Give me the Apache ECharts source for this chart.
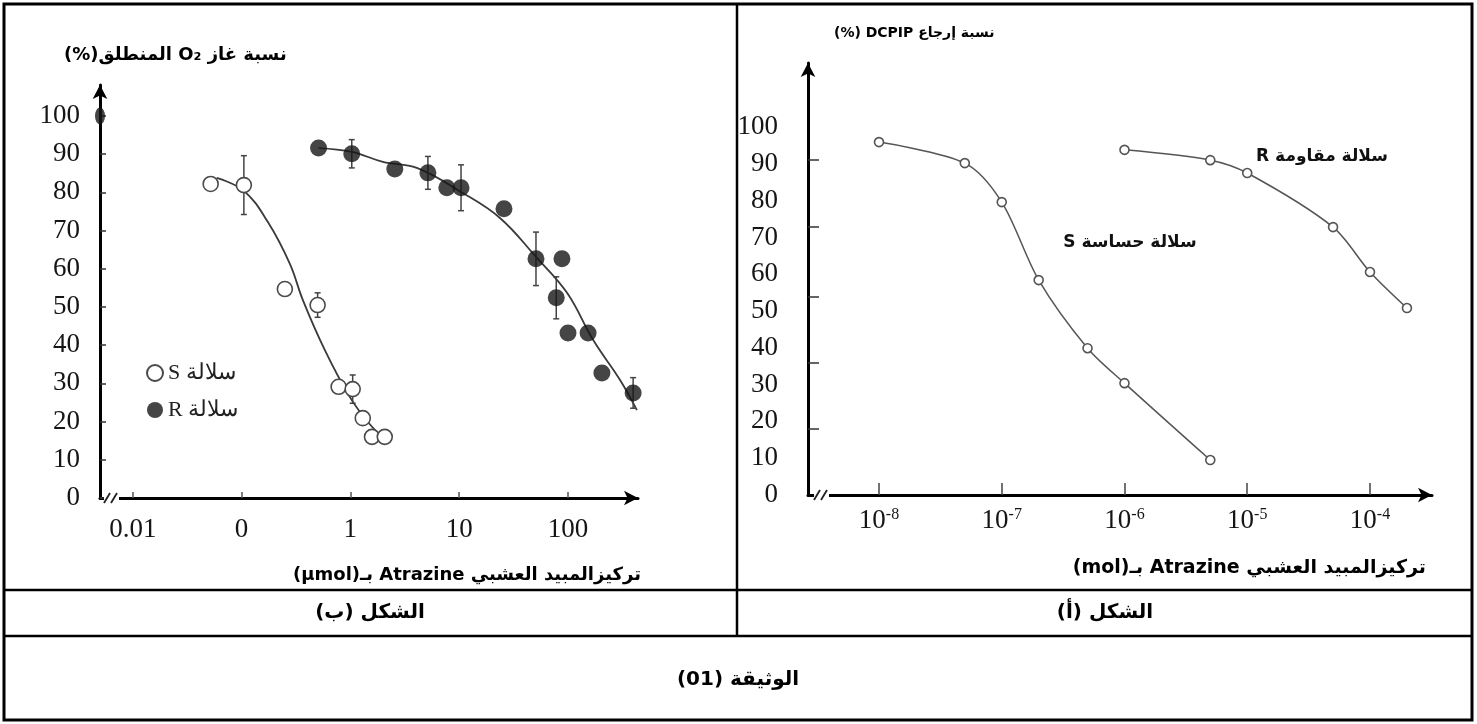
<!DOCTYPE html>
<html><head><meta charset="utf-8">
<script src="https://cdn.jsdelivr.net/npm/echarts@6/dist/echarts.min.js"></script>
<style>html,body{margin:0;padding:0;background:#fff}#c{width:1477px;height:724px}</style>
</head><body><div id="c"></div><script>
// ===== Figure (ب): released O2 (%) vs Atrazine (µmol), log scale =====
const bXTickValues = [0.01, 0.1, 1, 10, 100];
const bXTickLabels = ['0.01', '0', '1', '10', '100'];
const bYTicks = [0, 10, 20, 30, 40, 50, 60, 70, 80, 90, 100];
// strain S (open circles)
const bSX = [0.052, 0.105, 0.25, 0.50, 0.78, 1.05, 1.30, 1.58, 2.07];
const bSY = [82.2, 81.9, 54.7, 50.5, 29.1, 28.5, 20.9, 16.0, 16.0];
// strain R (filled circles)
const bRX = [0.51, 1.03, 2.56, 5.16, 7.7, 10.4, 25.8, 50.8, 88, 78, 100, 153, 205, 397];
const bRY = [91.6, 90.1, 86.1, 85.1, 81.2, 81.2, 75.7, 62.6, 62.6, 52.4, 43.2, 43.2, 32.7, 27.5];
// control point drawn on the y axis
const bCtrlX = [0.005];
const bCtrlY = [100];
// fitted curves
const bSFitX = [0.059, 0.105, 0.174, 0.278, 0.366, 0.583, 0.99, 1.45, 2.21];
const bSFitY = [83.8, 80.4, 72.3, 61.3, 51.8, 38.7, 26.4, 19.9, 14.4];
const bRFitX = [0.51, 1.03, 1.99, 4.08, 10.4, 23.7, 50.8, 98, 170, 301, 430];
const bRFitY = [91.6, 90.6, 88.0, 86.4, 80.1, 73.3, 63.1, 53.7, 41.4, 30.9, 23.0];
// error bars: x, low, high
const bErrX = [0.105, 0.50, 1.05, 1.03, 5.16, 10.4, 50.8, 78, 397];
const bErrLo = [74.2, 47.3, 24.8, 86.4, 80.8, 75.2, 55.6, 46.9, 23.5];
const bErrHi = [89.6, 53.7, 32.2, 93.8, 89.4, 87.2, 69.6, 57.9, 31.5];

// ===== Figure (أ): DCPIP reduction (%) vs Atrazine (mol), log scale =====
const aXTickValues = [1e-8, 1e-7, 1e-6, 1e-5, 1e-4];
const aXTickExp = ['-8', '-7', '-6', '-5', '-4'];
const aYLabels = [0, 10, 20, 30, 40, 50, 60, 70, 80, 90, 100];
const aYTicks = [18, 36, 54, 73, 91];
const aSX = [1e-8, 5e-8, 1e-7, 2e-7, 5e-7, 1e-6, 5e-6];
const aSY = [95.9, 90.2, 79.6, 58.4, 39.9, 30.4, 9.5];
const aRX = [1e-6, 5e-6, 1e-5, 5e-5, 1e-4, 2e-4];
const aRY = [93.8, 91.0, 87.5, 72.8, 60.6, 50.8];

const rtl = s => '\u202B' + s + '\u202C';
const zip = (a, b) => a.map((v, i) => [v, b[i]]);
const idxOf = (arr, v) => arr.findIndex(t => Math.abs(Math.log10(t) - Math.log10(v)) < 1e-6);

const SERIF = 'Liberation Serif';
const nameS = rtl('سلالة S');
const nameR = rtl('سلالة R');

function yAxisCfg(grid, max, ticks, labels, tickLen, margin) {
  return {
    type: 'value', gridIndex: grid, min: 0, max: max,
    axisLine: { show: true, onZero: false, lineStyle: { color: '#000', width: 3 },
      symbol: ['none', 'arrow'], symbolSize: [11, 14] },
    axisTick: { show: true, inside: true, length: tickLen, customValues: ticks,
      lineStyle: { color: '#333', width: 1.5 } },
    axisLabel: { customValues: labels, fontFamily: SERIF, fontSize: 27, color: '#151515', margin: margin },
    splitLine: { show: false }
  };
}

const chart = echarts.init(document.getElementById('c'));
chart.setOption({
  animation: false,
  backgroundColor: '#fff',
  grid: [
    { left: 100, top: 85, width: 538, height: 413 },
    { left: 808, top: 63, width: 624, height: 432 }
  ],
  xAxis: [
    {
      type: 'log', logBase: 10, gridIndex: 0, min: 0.005, max: 440,
      axisLine: { show: true, onZero: false, lineStyle: { color: '#000', width: 3 },
        symbol: ['none', 'arrow'], symbolSize: [11, 14] },
      axisTick: { show: true, inside: true, length: 6, customValues: bXTickValues,
        lineStyle: { color: '#555', width: 1.5 } },
      axisLabel: { customValues: bXTickValues, fontFamily: SERIF, fontSize: 27, color: '#151515', margin: 18,
        formatter: v => bXTickLabels[idxOf(bXTickValues, v)] },
      splitLine: { show: false }, minorTick: { show: false }
    },
    {
      type: 'log', logBase: 10, gridIndex: 1, min: 2.64e-9, max: 3.2e-4,
      axisLine: { show: true, onZero: false, lineStyle: { color: '#000', width: 3 },
        symbol: ['none', 'arrow'], symbolSize: [11, 14] },
      axisTick: { show: true, inside: true, length: 12, customValues: aXTickValues,
        lineStyle: { color: '#444', width: 1.5 } },
      axisLabel: { customValues: aXTickValues, margin: 12,
        formatter: v => '{b|10}{s|' + aXTickExp[idxOf(aXTickValues, v)] + '}',
        rich: {
          b: { fontFamily: SERIF, fontSize: 27, color: '#151515', verticalAlign: 'bottom' },
          s: { fontFamily: SERIF, fontSize: 16, color: '#151515', verticalAlign: 'top' }
        } },
      splitLine: { show: false }, minorTick: { show: false }
    }
  ],
  yAxis: [
    yAxisCfg(0, 108.1, bYTicks, bYTicks, 6, 20),
    yAxisCfg(1, 117.4, aYTicks, aYLabels, 11, 30)
  ],
  legend: {
    data: [nameS, nameR], orient: 'vertical', left: 146, top: 362, padding: 0,
    itemWidth: 16, itemHeight: 16, itemGap: 15,
    textStyle: { fontFamily: SERIF, fontSize: 22, color: '#222' }
  },
  series: [
    { type: 'line', name: 'fitR', xAxisIndex: 0, yAxisIndex: 0, data: zip(bRFitX, bRFitY),
      smooth: 0.4, showSymbol: false, clip: false, silent: true, z: 2,
      lineStyle: { color: '#3a3a3a', width: 1.8 } },
    { type: 'line', name: 'fitS', xAxisIndex: 0, yAxisIndex: 0, data: zip(bSFitX, bSFitY),
      smooth: 0.4, showSymbol: false, clip: false, silent: true, z: 2,
      lineStyle: { color: '#3a3a3a', width: 1.8 } },
    { type: 'custom', name: 'err', xAxisIndex: 0, yAxisIndex: 0, z: 3, silent: true,
      data: bErrX.map((x, i) => [x, bErrLo[i], bErrHi[i]]),
      encode: { x: 0, y: [1, 2] },
      renderItem: (params, api) => {
        const x = api.value(0);
        const p1 = api.coord([x, api.value(1)]);
        const p2 = api.coord([x, api.value(2)]);
        const w = 3;
        const st = { stroke: '#444', lineWidth: 1.5 };
        return { type: 'group', children: [
          { type: 'line', shape: { x1: p1[0], y1: p1[1], x2: p2[0], y2: p2[1] }, style: st },
          { type: 'line', shape: { x1: p1[0] - w, y1: p1[1], x2: p1[0] + w, y2: p1[1] }, style: st },
          { type: 'line', shape: { x1: p2[0] - w, y1: p2[1], x2: p2[0] + w, y2: p2[1] }, style: st }
        ] };
      } },
    { type: 'scatter', name: nameS, xAxisIndex: 0, yAxisIndex: 0, data: zip(bSX, bSY),
      symbol: 'circle', symbolSize: 15, z: 5, clip: false,
      itemStyle: { color: '#fff', borderColor: '#4a4a4a', borderWidth: 1.6, opacity: 1 } },
    { type: 'scatter', name: nameR, xAxisIndex: 0, yAxisIndex: 0, data: zip(bRX, bRY),
      symbol: 'circle', symbolSize: 17, z: 5, clip: false,
      itemStyle: { color: '#161616' } },
    { type: 'scatter', name: 'ctrl', xAxisIndex: 0, yAxisIndex: 0, data: zip(bCtrlX, bCtrlY),
      symbol: 'circle', symbolSize: [10, 17], z: 6, clip: false,
      itemStyle: { color: '#161616' } },
    { type: 'line', name: 'aS', xAxisIndex: 1, yAxisIndex: 1, data: zip(aSX, aSY),
      smooth: 0.3, symbol: 'circle', symbolSize: 9, showSymbol: true, clip: false, z: 4,
      itemStyle: { color: '#fff', borderColor: '#555', borderWidth: 1.6 },
      lineStyle: { color: '#555', width: 1.5 } },
    { type: 'line', name: 'aR', xAxisIndex: 1, yAxisIndex: 1, data: zip(aRX, aRY),
      smooth: 0.3, symbol: 'circle', symbolSize: 9, showSymbol: true, clip: false, z: 4,
      itemStyle: { color: '#fff', borderColor: '#555', borderWidth: 1.6 },
      lineStyle: { color: '#555', width: 1.5 } }
  ],
  graphic: [
    // table frame
    { type: 'rect', z: 100, shape: { x: 4, y: 4, width: 1468, height: 716 },
      style: { fill: null, stroke: '#000', lineWidth: 3 } },
    { type: 'line', z: 100, shape: { x1: 737, y1: 4, x2: 737, y2: 636 }, style: { stroke: '#000', lineWidth: 2.5 } },
    { type: 'line', z: 100, shape: { x1: 4, y1: 590, x2: 1472, y2: 590 }, style: { stroke: '#000', lineWidth: 2.5 } },
    { type: 'line', z: 100, shape: { x1: 4, y1: 636, x2: 1472, y2: 636 }, style: { stroke: '#000', lineWidth: 2.5 } },
    { type: 'text', z: 100, style: { x: 370, y: 613, text: rtl('الشكل (ب)'), font: 'bold 20px "DejaVu Sans"', fill: '#000', align: 'center', verticalAlign: 'middle' } },
    { type: 'text', z: 100, style: { x: 1105, y: 613, text: rtl('الشكل (أ)'), font: 'bold 20px "DejaVu Sans"', fill: '#000', align: 'center', verticalAlign: 'middle' } },
    { type: 'text', z: 100, style: { x: 738, y: 680, text: rtl('الوثيقة (01)'), font: 'bold 20px "DejaVu Sans"', fill: '#000', align: 'center', verticalAlign: 'middle' } },
    // axis titles
    { type: 'text', z: 100, style: { x: 64, y: 55, text: rtl('نسبة غاز O₂ المنطلق(%)'), font: 'bold 18px "DejaVu Sans"', fill: '#000', align: 'left', verticalAlign: 'middle' } },
    { type: 'text', z: 100, style: { x: 641, y: 575, text: rtl('تركيزالمبيد العشبي Atrazine بـ(µmol)'), font: 'bold 18px "DejaVu Sans"', fill: '#000', align: 'right', verticalAlign: 'middle' } },
    { type: 'text', z: 100, style: { x: 834, y: 33, text: rtl('نسبة إرجاع DCPIP (%)'), font: 'bold 14px "DejaVu Sans"', fill: '#000', align: 'left', verticalAlign: 'middle' } },
    { type: 'text', z: 100, style: { x: 1426, y: 568, text: rtl('تركيزالمبيد العشبي Atrazine بـ(mol)'), font: 'bold 19px "DejaVu Sans"', fill: '#000', align: 'right', verticalAlign: 'middle' } },
    // curve labels (figure أ)
    { type: 'text', z: 100, style: { x: 1322, y: 157, text: rtl('سلالة مقاومة R'), font: 'bold 17px "DejaVu Sans"', fill: '#111', align: 'center', verticalAlign: 'middle' } },
    { type: 'text', z: 100, style: { x: 1130, y: 243, text: rtl('سلالة حساسة S'), font: 'bold 17px "DejaVu Sans"', fill: '#111', align: 'center', verticalAlign: 'middle' } },
    // axis break marks
    { type: 'rect', z: 100, shape: { x: 104, y: 493, width: 15, height: 10 }, style: { fill: '#fff' } },
    { type: 'line', z: 101, shape: { x1: 104, y1: 503, x2: 110, y2: 493 }, style: { stroke: '#222', lineWidth: 1.8 } },
    { type: 'line', z: 101, shape: { x1: 111, y1: 503, x2: 117, y2: 493 }, style: { stroke: '#222', lineWidth: 1.8 } },
    { type: 'rect', z: 100, shape: { x: 814, y: 490, width: 15, height: 10 }, style: { fill: '#fff' } },
    { type: 'line', z: 101, shape: { x1: 814, y1: 500, x2: 820, y2: 490 }, style: { stroke: '#222', lineWidth: 1.8 } },
    { type: 'line', z: 101, shape: { x1: 821, y1: 500, x2: 827, y2: 490 }, style: { stroke: '#222', lineWidth: 1.8 } }
  ]
});
</script></body></html>
